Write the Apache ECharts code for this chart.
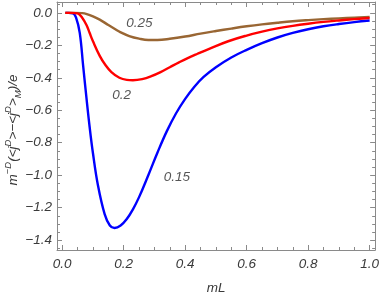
<!DOCTYPE html>
<html>
<head>
<meta charset="utf-8">
<script src="https://cdn.jsdelivr.net/npm/echarts@6/dist/echarts.min.js"></script>
<style>
html,body{margin:0;padding:0;background:#fff;}
#chart{width:382px;height:300px;}
</style>
</head>
<body>
<div id="chart"></div>
<script>
// ---- data ----
const x015 = [0.01, 0.02, 0.035, 0.045, 0.057, 0.068, 0.079, 0.089, 0.1, 0.116, 0.138, 0.155, 0.17, 0.19, 0.21, 0.23, 0.25, 0.28, 0.31, 0.34, 0.37, 0.4, 0.43, 0.46, 0.5, 0.55, 0.6, 0.65, 0.7, 0.75, 0.8, 0.85, 0.9, 0.95, 1.0];
const y015 = [0, 0, -0.003, -0.03, -0.123, -0.325, -0.527, -0.70, -0.865, -1.06, -1.24, -1.31, -1.325, -1.31, -1.27, -1.21, -1.135, -1.0, -0.86, -0.73, -0.62, -0.53, -0.455, -0.395, -0.335, -0.275, -0.228, -0.187, -0.152, -0.124, -0.101, -0.083, -0.069, -0.057, -0.047];

const x02 = [0.01, 0.03, 0.05, 0.065, 0.08, 0.089, 0.1, 0.122, 0.14, 0.16, 0.186, 0.21, 0.23, 0.26, 0.29, 0.32, 0.35, 0.38, 0.41, 0.44, 0.48, 0.54, 0.6, 0.65, 0.7, 0.75, 0.8, 0.85, 0.9, 0.95, 1.0];
const y02 = [0, 0, -0.003, -0.03, -0.08, -0.123, -0.175, -0.265, -0.32, -0.365, -0.4, -0.413, -0.415, -0.408, -0.39, -0.365, -0.335, -0.305, -0.277, -0.252, -0.22, -0.175, -0.14, -0.116, -0.096, -0.08, -0.067, -0.056, -0.047, -0.039, -0.032];

const x025 = [0.01, 0.04, 0.065, 0.08, 0.1, 0.122, 0.15, 0.17, 0.19, 0.218, 0.25, 0.28, 0.31, 0.35, 0.4, 0.45, 0.5, 0.55, 0.6, 0.65, 0.7, 0.75, 0.8, 0.85, 0.9, 0.95, 1.0];
const y025 = [0, 0, -0.002, -0.008, -0.022, -0.042, -0.075, -0.098, -0.12, -0.143, -0.159, -0.167, -0.167, -0.16, -0.146, -0.128, -0.112, -0.097, -0.083, -0.071, -0.061, -0.052, -0.045, -0.039, -0.034, -0.030, -0.026];

const seriesNames = ['0.15', '0.25', '0.2'];
const labelX = [0.373, 0.251, 0.193];
const labelY = [-1.012, -0.062, -0.509];

const xMajor = [0, 0.2, 0.4, 0.6, 0.8, 1.0];
const xMinor = [0.05, 0.1, 0.15, 0.25, 0.3, 0.35, 0.45, 0.5, 0.55, 0.65, 0.7, 0.75, 0.85, 0.9, 0.95];
const yMajor = [0, -0.2, -0.4, -0.6, -0.8, -1.0, -1.2, -1.4];
const yMinor = [0.05, -0.05, -0.1, -0.15, -0.25, -0.3, -0.35, -0.45, -0.5, -0.55, -0.65, -0.7, -0.75, -0.85, -0.9, -0.95, -1.05, -1.1, -1.15, -1.25, -1.3, -1.35, -1.45];

// ---- chart ----
const X_MIN = -0.017, X_MAX = 1.018, Y_MIN = -1.4606, Y_MAX = 0.0667;
const frameColor = '#8a8a8a';
const textColor = '#3a3a3a';
const font = 'Liberation Sans';

function zip(xs, ys) { return xs.map((x, i) => [x, ys[i]]); }

function axis(kind, pos, isMajor, ticks, withLabels, extra) {
  return Object.assign({
    type: 'value', position: pos,
    min: kind === 'x' ? X_MIN : Y_MIN,
    max: kind === 'x' ? X_MAX : Y_MAX,
    axisLine: { show: isMajor, onZero: false, lineStyle: { color: frameColor, width: 1 } },
    axisTick: { show: true, inside: true, length: isMajor ? 5 : 3, customValues: ticks,
                lineStyle: { color: frameColor, width: 1 } },
    axisLabel: withLabels ? {
      show: true, customValues: ticks, fontStyle: 'italic', fontFamily: font, fontSize: 13.5,
      color: textColor, margin: kind === 'x' ? 7 : 5,
      formatter: v => (v < 0 ? '\u2212' + Math.abs(v).toFixed(1) : v.toFixed(1))
    } : { show: false },
    splitLine: { show: false }
  }, extra || {});
}

const chart = echarts.init(document.getElementById('chart'), null, { renderer: 'canvas' });

const xAxes = [
  axis('x', 'bottom', true, xMajor, true, {
    name: 'mL', nameLocation: 'middle', nameGap: 31,
    nameTextStyle: { fontStyle: 'italic', fontFamily: font, fontSize: 13.5, color: textColor }
  }),
  axis('x', 'bottom', false, xMinor, false),
  axis('x', 'top', true, xMajor, false),
  axis('x', 'top', false, xMinor, false)
];

const yAxes = [
  axis('y', 'left', true, yMajor, true),
  axis('y', 'left', false, yMinor, false),
  axis('y', 'right', true, yMajor, false),
  axis('y', 'right', false, yMinor, false)
];

function lineSeries(name, xs, ys, color) {
  return {
    name: name, type: 'line', xAxisIndex: 0, yAxisIndex: 0,
    data: zip(xs, ys), showSymbol: false, smooth: 0.4, clip: true,
    lineStyle: { color: color, width: 2.4, join: 'round' }, animation: false, silent: true
  };
}

const labelData = seriesNames.map((n, i) => ({ value: [labelX[i], labelY[i]], label: { formatter: n } }));

const yName = '{b|m}{s|\u2212D}{b|(<j}{s|D}{b|>\u2212<j}{s|D}{b|>}{u|M}{b|)/e}';
const richY = {
  b: { fontSize: 13.5, fontStyle: 'italic', fontFamily: font, fill: textColor, lineHeight: 20, verticalAlign: 'middle' },
  s: { fontSize: 9.5, fontStyle: 'italic', fontFamily: font, fill: textColor, lineHeight: 10, verticalAlign: 'top' },
  u: { fontSize: 9.5, fontStyle: 'italic', fontFamily: font, fill: textColor, lineHeight: 10, verticalAlign: 'bottom' }
};

const option = {
  animation: false,
  grid: { left: 57, right: 4, top: 2, bottom: 46, containLabel: false },
  xAxis: xAxes,
  yAxis: yAxes,
  graphic: [{
    type: 'text', x: 13, y: 130, rotation: Math.PI / 2, silent: true,
    style: { text: yName, rich: richY, align: 'center', verticalAlign: 'middle',
             font: 'italic 13.5px "Liberation Sans"', fill: textColor }
  }],
  series: [
    lineSeries('0.15', x015, y015, '#0000ff'),
    lineSeries('0.25', x025, y025, '#996633'),
    lineSeries('0.2', x02, y02, '#ff0000'),
    {
      type: 'scatter', xAxisIndex: 0, yAxisIndex: 0, symbolSize: 0, silent: true,
      data: labelData,
      label: { show: true, position: 'inside', fontStyle: 'italic', fontFamily: font, fontSize: 13.5, color: '#2a2a2a' }
    }
  ]
};
chart.setOption(option);
</script>
</body>
</html>
